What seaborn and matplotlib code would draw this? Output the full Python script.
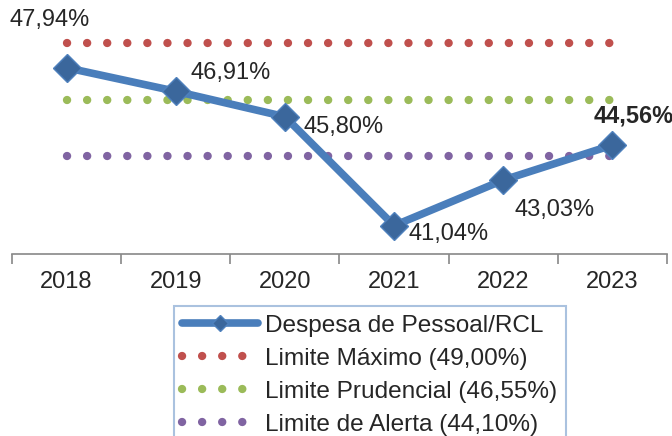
import numpy as np
import matplotlib
matplotlib.use("Agg")
import matplotlib.pyplot as plt
import seaborn as sns

# dados
anos = ["2018", "2019", "2020", "2021", "2022", "2023"]
despesa = [47.94, 46.91, 45.80, 41.04, 43.03, 44.56]
rotulos = ["47,94%", "46,91%", "45,80%", "41,04%", "43,03%", "44,56%"]
limite_maximo = 49.00
limite_prudencial = 46.55
limite_alerta = 44.10
nomes_limites = ["Limite Máximo (49,00%)", "Limite Prudencial (46,55%)", "Limite de Alerta (44,10%)"]

sns.set_style("white")
plt.rcParams["font.family"] = ["Liberation Sans", "DejaVu Sans"]
fs = 17

fig = plt.figure(figsize=(6.72, 4.36), dpi=100)
ax = fig.add_axes([12 / 672, 1 - 254 / 436, 655 / 672, 254 / 436])

x = np.arange(len(anos))
cores = ["#c0504d", "#9bbb59", "#8064a2"]
limites = [limite_maximo, limite_prudencial, limite_alerta]
for lim, cor, nome in zip(limites, cores, nomes_limites):
    ax.plot(x, [lim] * len(x), color=cor, lw=6, linestyle=(0, (0.01, 2.4)),
            dash_capstyle="round", label=nome, zorder=2)

sns.lineplot(x=x, y=despesa, ax=ax, color="#4a7ebb", lw=5.5, marker="D",
             markersize=14, markerfacecolor="#3b679c", markeredgecolor="#4f81bd",
             markeredgewidth=1, label="Despesa de Pessoal/RCL", zorder=3)

# rótulos de dados (deslocamento em pixels)
offsets = [(-17, 48), (55, 18), (59, -10), (54, -8), (51, -30), (21, 29)]
for i, (txt, off) in enumerate(zip(rotulos, offsets)):
    ax.annotate(txt, (x[i], despesa[i]), xytext=off, textcoords="offset pixels",
                ha="center", va="center", fontsize=fs,
                fontweight="bold" if i == len(anos) - 1 else "normal",
                annotation_clip=False)

ax.set_xlim(-0.5, 5.5)
ax.set_ylim(39.8, 50.9)
ax.set_xticks(x)
ax.set_xticklabels(anos, fontsize=fs)
ax.set_xticks(np.arange(-0.5, 6, 1), minor=True)
ax.tick_params(axis="x", which="major", length=0, pad=12)
ax.tick_params(axis="x", which="minor", length=7, color="#888888", width=1.2, bottom=True)
ax.set_yticks([])
for s in ["top", "right", "left"]:
    ax.spines[s].set_visible(False)
ax.spines["bottom"].set_color("#888888")
ax.spines["bottom"].set_linewidth(1.2)

handles, labels = ax.get_legend_handles_labels()
if ax.get_legend():
    ax.get_legend().remove()
ordem = [3, 0, 1, 2]
leg = fig.legend([handles[i] for i in ordem], [labels[i] for i in ordem],
                 loc="upper center", bbox_to_anchor=(370 / 672, 1 - 306 / 436),
                 fontsize=17.6, frameon=True, fancybox=False, handlelength=3.1,
                 handletextpad=0.3, labelspacing=0.45, borderaxespad=0,
                 borderpad=0.35)
leg.get_frame().set_edgecolor("#95b3d7")
leg.get_frame().set_linewidth(1.5)
leg.get_lines()[0].set_markersize(8)

fig.savefig("out.png", dpi=100)
